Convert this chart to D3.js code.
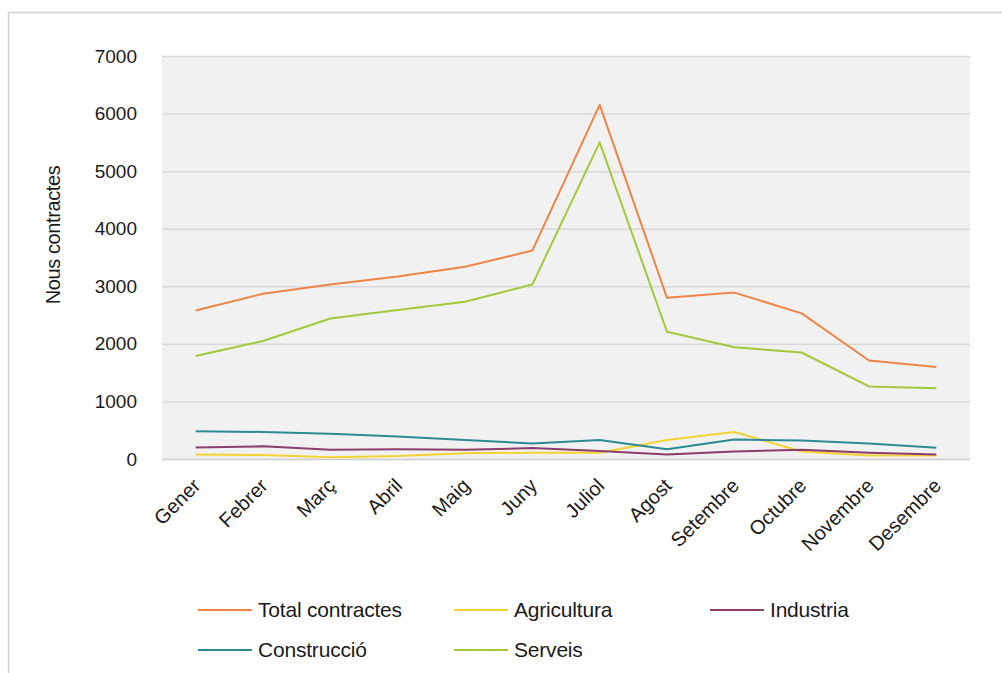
<!DOCTYPE html>
<html>
<head>
<meta charset="utf-8">
<script src="https://cdn.jsdelivr.net/npm/d3@7"></script>
<style>
  html, body { margin: 0; padding: 0; background: #fff; }
  svg { display: block; font-family: "Liberation Sans", Arial, Helvetica, sans-serif; }
</style>
</head>
<body>
<svg id="chart" width="1002" height="673"></svg>
<script>
const months = ["Gener","Febrer","Març","Abril","Maig","Juny","Juliol","Agost","Setembre","Octubre","Novembre","Desembre"];
const yTicks = [0,1000,2000,3000,4000,5000,6000,7000];
const seriesNames = ["Total contractes","Agricultura","Industria","Construcció","Serveis"];
const totalContractes = [2580,2870,3030,3170,3340,3620,6150,2800,2890,2530,1710,1600];
const agricultura     = [80,70,30,50,100,110,110,330,470,130,60,60];
const industria       = [200,220,160,170,160,190,140,80,130,160,110,80];
const construccio     = [480,470,440,390,330,270,330,170,340,320,270,195];
const serveis         = [1790,2050,2440,2590,2730,3030,5500,2210,1940,1850,1260,1230];
const seriesColors = ["#ef8444","#f3d334","#8c3e6c","#2b8a94","#a3c83c"];

const seriesValues = [totalContractes, agricultura, industria, construccio, serveis];
const svg = d3.select("#chart");

// outer frame
svg.append("rect").attr("x", 8.5).attr("y", 12.5).attr("width", 1100).attr("height", 800)
  .attr("fill", "#fff").attr("stroke", "#cfcfcf").attr("stroke-width", 1.5);

const plot = {left: 162, right: 970, top: 56, bottom: 459};

const x = d3.scaleBand().domain(months).range([plot.left, plot.right]);
const y = d3.scaleLinear().domain([0, 7000]).range([plot.bottom, plot.top]);

svg.append("rect").attr("x", plot.left).attr("y", plot.top)
  .attr("width", plot.right - plot.left).attr("height", plot.bottom - plot.top)
  .attr("fill", "#f1f1f1");

// gridlines + y labels via axis
const yAxis = d3.axisLeft(y).tickValues(yTicks).tickFormat(d3.format("d"))
  .tickSize(-(plot.right - plot.left)).tickPadding(25);
const gy = svg.append("g").attr("transform", `translate(${plot.left},0)`).call(yAxis);
gy.select(".domain").remove();
gy.selectAll(".tick line").attr("stroke", d => d === 0 ? "#cccccc" : "#d8d8d8").attr("stroke-width", 1.5);
gy.selectAll(".tick text").attr("fill", "#1a1a1a").style("font-size", "19px")
  .style("letter-spacing", "0px");

// x labels
const xAxis = d3.axisBottom(x).tickSize(0).tickPadding(0);
const gx = svg.append("g").attr("transform", `translate(0,${plot.bottom})`).call(xAxis);
gx.select(".domain").remove();
gx.selectAll(".tick text")
  .attr("fill", "#1a1a1a").style("font-size", "20px").style("letter-spacing", "0px")
  .attr("text-anchor", "end").attr("dy", null).attr("y", null)
  .attr("transform", "translate(6,28) rotate(-45)");

// lines
const line = d3.line().x((d, i) => x(months[i]) + x.bandwidth() / 2).y(d => y(d));
seriesValues.forEach((vals, i) => {
  svg.append("path").datum(vals).attr("d", line)
    .attr("fill", "none").attr("stroke", seriesColors[i]).attr("stroke-width", 2)
    .attr("stroke-linejoin", "round");
});

// y title
svg.append("text").attr("transform", "translate(60,235) rotate(-90)")
  .attr("text-anchor", "middle").attr("fill", "#1a1a1a")
  .style("font-size", "20px").style("letter-spacing", "-0.4px")
  .text("Nous contractes");

// legend
const legendPos = [[198,610],[454,610],[710,610],[198,650],[454,650]];
seriesNames.forEach((name, i) => {
  const [lx, ly] = legendPos[i];
  svg.append("line").attr("x1", lx).attr("x2", lx + 54).attr("y1", ly).attr("y2", ly)
    .attr("stroke", seriesColors[i]).attr("stroke-width", 2);
  svg.append("text").attr("x", lx + 60).attr("y", ly).attr("dy", "0.35em")
    .attr("fill", "#1a1a1a").style("font-size", "21px").style("letter-spacing", "-0.2px")
    .text(name);
});
</script>
</body>
</html>
